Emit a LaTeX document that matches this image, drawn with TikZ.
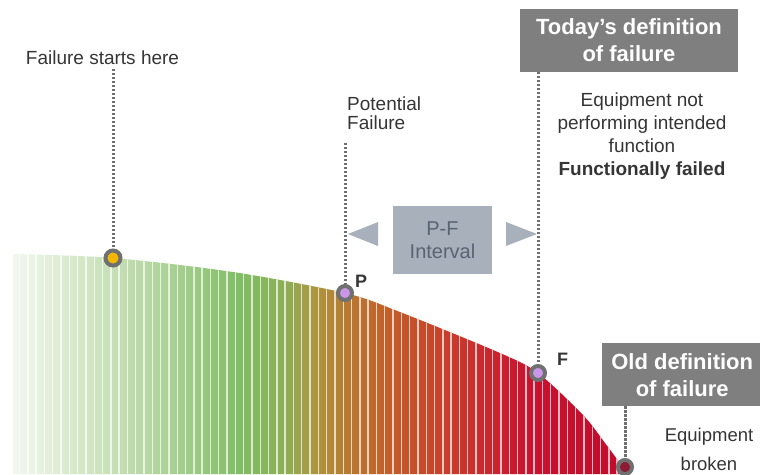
\documentclass[tikz,border=0pt]{standalone}
\usepackage{fontspec}
\setmainfont{Liberation Sans}
\usepackage{xcolor}
\usepackage{tikz}
\usetikzlibrary{positioning}

\definecolor{txtgray}{HTML}{353535}
\definecolor{dotgray}{HTML}{707070}
\definecolor{boxgray}{HTML}{7F7F7F}
\definecolor{pfblue}{HTML}{A8B0BC}
\definecolor{pftext}{HTML}{5A6372}
\definecolor{sunny}{HTML}{F2B705}
\definecolor{lilac}{HTML}{C996E8}
\definecolor{wine}{HTML}{8E1A34}

% colours of the bars, left to right
\definecolor{b0}{HTML}{F3F7EF}
\definecolor{b1}{HTML}{DDECD3}
\definecolor{b2}{HTML}{B5D6A1}
\definecolor{b3}{HTML}{80BD65}
\definecolor{b4}{HTML}{8DAE55}
\definecolor{b5}{HTML}{AD953F}
\definecolor{b6}{HTML}{B87A30}
\definecolor{b7}{HTML}{C35C2A}
\definecolor{b8}{HTML}{C8402A}
\definecolor{b9}{HTML}{C92530}
\definecolor{b10}{HTML}{C8122F}
\definecolor{b11}{HTML}{C00C2C}
\pgfdeclarehorizontalshading{pfbars}{100bp}{color(0bp)=(b0); color(25bp)=(b0);
  color(28.85bp)=(b1); color(36.2bp)=(b2); color(43.5bp)=(b3); color(47.2bp)=(b4);
  color(49.65bp)=(b5); color(52.1bp)=(b6); color(55.75bp)=(b7); color(59.85bp)=(b8);
  color(63.9bp)=(b9); color(67.15bp)=(b10); color(75bp)=(b11); color(100bp)=(b11)}

\begin{document}
\begin{tikzpicture}[x=1pt, y=-1pt,
    txt/.style={text=txtgray, inner sep=0pt, font=\fontsize{19}{23}\selectfont},
    dot/.style={circle, draw=dotgray, line width=4pt, minimum size=14pt, inner sep=0pt},
    dotline/.style={dotgray, line width=3pt, dash pattern=on 2.2pt off 1.8pt},
    defbox/.style={fill=boxgray, text=white, inner sep=0pt, align=center,
                   font=\fontsize{22}{27}\selectfont\bfseries},
    gap/.style={white, opacity=0.7, line width=1.4pt}]
    \useasboundingbox (0,0) rectangle (760,474);

    % the curve, filled with bars
    \begin{scope}
        \clip (13,474) -- plot[smooth] coordinates {(13,254) (113,258) (233,272) (345,293)
            (400,312) (500,353) (538,373) (583,415) (605,443) (628,474)} -- cycle;
        \shade[shading=pfbars] (13,240) rectangle (628,474);
        \foreach \x in {19.5,27.8,...,630}
            \draw[gap] (\x,240) -- (\x,474);
    \end{scope}

    % points on the curve
    \node[dot, fill=sunny, minimum size=15pt] (start) at (113,258) {};
    \node[dot, fill=lilac] (p) at (345,293) {};
    \node[dot, fill=lilac] (f) at (538,373) {};
    \node[dot, fill=wine] (broken) at (625,467) {};

    \node[txt, font=\fontsize{18}{20}\selectfont\bfseries, anchor=south west] (plabel) at (355,288) {P};
    \node[txt, font=\fontsize{18}{20}\selectfont\bfseries, anchor=south west] (flabel) at (557,366) {F};

    % failure starts here
    \node[txt, anchor=north] (starttext) at (102.5,51) {Failure starts here};
    \draw[dotline] (start |- 0,69) -- (start);

    % potential failure
    \node[txt, anchor=north west, align=left, font=\fontsize{19}{19}\selectfont] (ptext) at (347,97) {Potential\\Failure};
    \draw[dotline] (p |- 0,143) -- (p);

    % P-F interval
    \node[fill=pfblue, text=pftext, minimum width=99pt, minimum height=68pt, inner sep=0pt,
          align=center, font=\fontsize{20}{23.5}\selectfont] (pf) at (442.5,240) {P-F\\Interval};
    \fill[pfblue] (378,222) -- (378,246) -- (348,234) -- cycle;
    \fill[pfblue] (506,222) -- (506,246) -- (537,234) -- cycle;

    % today's definition
    \node[defbox, minimum width=218pt, minimum height=63pt] (today) at (629,40.5) {Today’s definition\\of failure};
    \node[txt, anchor=north, align=center] (todaytext) at (642,92.5)
        {Equipment not\\performing intended\\function\\\textbf{Functionally failed}};
    \draw[dotline] (f |- today.south) -- (f);

    % old definition
    \node[defbox, minimum width=160pt, minimum height=63pt, anchor=north west] (old) at (602,343) {Old definition\\of failure};
    \node[txt, anchor=north, align=center, font=\fontsize{18.5}{29}\selectfont] (oldtext) at (709,428) {Equipment\\broken};
    \draw[dotline] (broken |- old.south) -- (broken);
\end{tikzpicture}
\end{document}
